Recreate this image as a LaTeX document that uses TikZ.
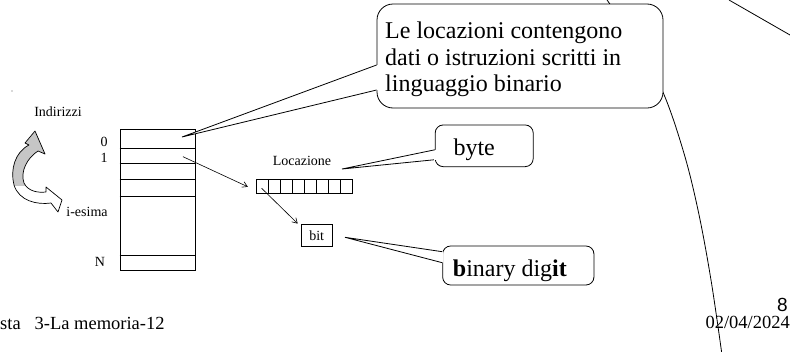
\documentclass[tikz,border=0pt]{standalone}
\usepackage{fontspec}
\setmainfont{Liberation Serif}
\newfontfamily\sansnum{Liberation Sans}
\usetikzlibrary{arrows.meta,calc}

\tikzset{
  thin line/.style={line width=0.7pt, draw=black},
  small label/.style={inner sep=0pt, font=\fontsize{14}{16}\selectfont},
  big label/.style={inner sep=0pt, anchor=base west, align=left, font=\fontsize{24}{26.7}\selectfont},
  cell/.style={thin line, minimum width=11.9pt, minimum height=14pt, inner sep=0pt},
  callbox/.style={line width=0.8pt, draw=black, fill=white, inner sep=0pt},
  tail/.style={line width=0.8pt},
  arr/.style={line width=0.6pt, -{Straight Barb[length=5pt,width=6pt]}},
  deco/.style={line width=0.8pt}
}

\begin{document}
\begin{tikzpicture}[x=1pt,y=-1pt]
\useasboundingbox (0,0) rectangle (790,351);

% background arcs of the slide layout
\draw[deco] plot[smooth, tension=0.6] coordinates {(605,-3) (635,42) (662,90) (683,150) (698,210) (711,280) (722,355)};
\draw[deco] (729,0) -- (790,35);

% stray mark
\fill[gray!60] (12,91) circle (0.8pt);

% curved arrow beside the addresses
\def\curvedarrow{(35,131) -- (45,154) -- (38,151) .. controls (27,158) and (20,172) .. (24,183)
  .. controls (28,191) and (37,193) .. (46,192) -- (46,187) -- (62,200) -- (58,212) -- (51,203)
  .. controls (37,205) and (19,201) .. (14,185) .. controls (10,170) and (15,152) .. (29,145)
  -- (25,143) -- cycle}
\fill[white] \curvedarrow;
\begin{scope}
  \clip (0,100) rectangle (80,185);
  \fill[gray!45] \curvedarrow;
\end{scope}
\draw[line width=0.7pt, line join=round] \curvedarrow;

% address labels
\node[small label] (indir) at (58,112) {Indirizzi};
\node[small label] (iesima) at (87,212) {i-esima};
\node[small label] (a0) at (104,141.5) {0};
\node[small label] (a1) at (104,157.5) {1};
\node[small label] (aN) at (100,261.5) {N};

% memory block
\node[thin line, minimum width=75pt, minimum height=141.4pt, inner sep=0pt] (mem) at (157.5,200) {};
\foreach \yy in {148.3,163.3,179,196.3,255.7}
  \draw[thin line] (mem.west |- 0,\yy) -- (mem.east |- 0,\yy);
\coordinate (row0) at (182,137);
\coordinate (row1) at (183,156.7);

% one location: eight bits
\node[small label] (loc) at (302,161) {Locazione};
\foreach \i in {0,...,7}
  \node[cell] (b\i) at ({262.65+11.9*\i},186.3) {};
\node[thin line, minimum width=31.3pt, minimum height=22.7pt, inner sep=0pt,
      font=\fontsize{14}{16}\selectfont] (bit) at (316.7,235.3) {bit};

\draw[arr] (row1) -- ($(b0.west)+(-8.5,0.5)$);
\draw[arr] ($(b0.center)+(-1,2)$) -- ($(bit.north west)+(-3,0)$);

% callout: locations
\node[callbox, rounded corners=16pt, minimum width=286pt, minimum height=104pt] (c1) at (520,56) {};
\node[big label] (c1t) at (385,91.7) {Le locazioni contengono\\dati o istruzioni scritti in\\linguaggio binario};
\fill[white] (row0) -- ($(c1.west)+(1.2,9)$) -- ($(c1.west)+(1.2,34)$) -- cycle;
\draw[tail] ($(c1.west)+(0,9)$) -- (row0) -- ($(c1.west)+(0,34)$);

% callout: byte
\node[callbox, rounded corners=8pt, minimum width=98pt, minimum height=41.7pt] (c2) at (484.2,145.8) {};
\node[big label] (c2t) at (453.3,155) {byte};
\coordinate (locR) at (342,169);
\fill[white] (locR) -- ($(c2.west)+(1.2,4)$) -- ($(c2.west)+(1.2,14)$) -- cycle;
\draw[tail] ($(c2.west)+(0,4)$) -- (locR) -- ($(c2.west)+(-1,14)$);

% callout: binary digit
\node[callbox, rounded corners=8pt, minimum width=151.3pt, minimum height=39pt] (c3) at (518.3,265.5) {};
\node[big label] (c3t) at (452.7,276.7) {\textbf{b}inary dig\textbf{it}};
\coordinate (bitR) at (345,237.3);
\fill[white] (bitR) -- ($(c3.west)+(1.2,-13.8)$) -- ($(c3.west)+(1.2,-2.8)$) -- cycle;
\draw[tail] ($(c3.west)+(0,-13.8)$) -- (bitR) -- ($(c3.west)+(0,-2.8)$);

% footer
\node[anchor=base west, inner sep=0pt, font=\fontsize{18.5}{20}\selectfont] (foot) at (0,329) {sta\hspace{0.75em}3-La memoria-12};
\node[anchor=base east, inner sep=0pt, font=\sansnum\fontsize{19}{20}\selectfont] (page) at (788,311) {8};
\node[anchor=base east, inner sep=0pt, font=\fontsize{18.5}{20}\selectfont] (date) at (790,328) {02/04/2024};
\end{tikzpicture}
\end{document}
